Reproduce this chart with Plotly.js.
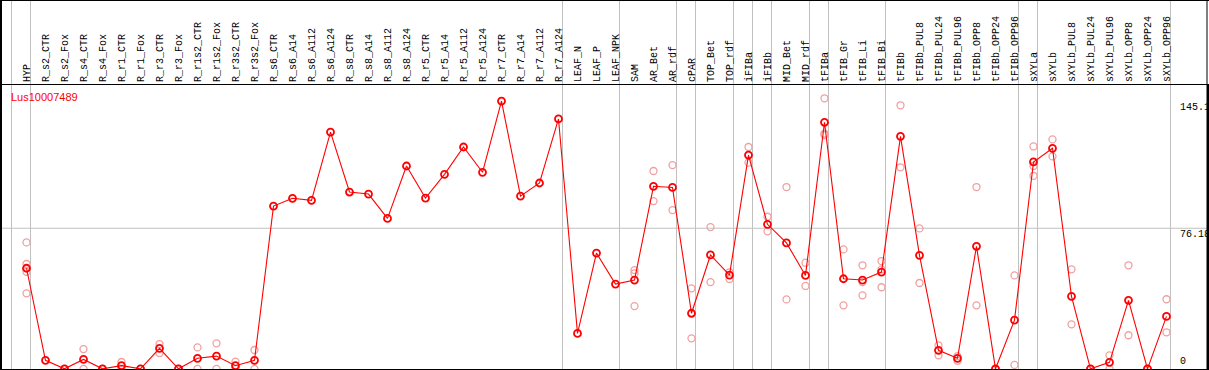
<!DOCTYPE html>
<html>
<head>
<meta charset="utf-8">
<script src="https://cdn.plot.ly/plotly-3.0.1.min.js"></script>
<style>
  html, body { margin: 0; padding: 0; background: #fff; }
  #chart { width: 1209px; height: 370px; }
</style>
</head>
<body>
<div id="chart"></div>
<script>
// ---- data ----
const geneName = "Lus10007489";

const categories = [
  "HYP","R_s2_CTR","R_s2_Fox","R_s4_CTR","R_s4_Fox","R_r1_CTR","R_r1_Fox","R_r3_CTR","R_r3_Fox",
  "R_r1s2_CTR","R_r1s2_Fox","R_r3s2_CTR","R_r3s2_Fox","R_s6_CTR","R_s6_A14","R_s6_A112","R_s6_A124",
  "R_s8_CTR","R_s8_A14","R_s8_A112","R_s8_A124","R_r5_CTR","R_r5_A14","R_r5_A112","R_r5_A124",
  "R_r7_CTR","R_r7_A14","R_r7_A112","R_r7_A124","LEAF_N","LEAF_P","LEAF_NPK","SAM","AR_Bet","AR_rdf",
  "cPAR","TOP_Bet","TOP_rdf","iFIBa","iFIBb","MID_Bet","MID_rdf","tFIBa","tFIB_Gr","tFIB_Li","tFIB_Bi",
  "tFIBb","tFIBb_PUL8","tFIBb_PUL24","tFIBb_PUL96","tFIBb_OPP8","tFIBb_OPP24","tFIBb_OPP96",
  "sXYLa","sXYLb","sXYLb_PUL8","sXYLb_PUL24","sXYLb_PUL96","sXYLb_OPP8","sXYLb_OPP24","sXYLb_OPP96"
];

const means = [
  54.5, 4.6, 0, 5.1, 0, 1.7, 0, 11.1, 0,
  5.7, 6.9, 1.7, 4.6, 88.2, 92.4, 91.3, 128.3,
  95.8, 94.7, 81.5, 109.9, 92.5, 105.4, 120.2, 106.5,
  145.1, 93.6, 100.7, 135.4, 19.2, 62.7, 45.9, 48.1, 98.9, 98.3,
  30.1, 61.7, 50.8, 115.8, 78.3, 68.2, 50.6, 133.6, 48.8, 48.1, 52.4,
  126.0, 61.5, 10.0, 5.7, 66.4, 0, 26.4,
  112.1, 119.5, 39.3, 0, 3.5, 37.1, 0, 28.4
];

const rep1 = [
  68.5, null, 0, 10.7, 0, 3.7, 0, 13.4, 0,
  11.6, 13.8, 3.9, 10.2, null, null, null, null,
  null, null, null, null, null, null, null, null,
  null, null, null, null, null, null, null, 53.5, 107.2, 110.4,
  43.6, 76.8, 52.3, 120.2, 82.4, 98.5, 57.5, 146.6, 64.7, 56.1, 58.4,
  142.8, 76.1, 12.7, 6.9, 98.5, 0, 50.6,
  120.5, 124.3, 53.9, 0, 7.3, 56.1, 0, 37.7
];

const rep2 = [
  56.8, null, 0, 0, 0, 0, 0, 8.6, 0,
  0, 0, 0, 0, null, null, null, null,
  null, null, null, null, null, null, null, null,
  null, null, null, null, null, null, null, 51.7, 90.9, 86.0,
  16.5, 47.0, 48.7, 111.7, 74.5, 37.6, 44.9, 127.5, 34.4, 47.0, 53.9,
  109.2, 46.5, 7.3, 4.4, 34.4, 0, 2.1,
  109.9, 115.1, 24.1, 0, 0, 18.2, 0, 19.8
];

const rep3 = [
  52.6, null, null, null, null, null, null, null, null,
  null, null, null, null, null, null, null, null,
  null, null, null, null, null, null, null, null,
  null, null, null, null, null, null, null, 34.0, null, null,
  null, null, null, null, null, null, null, 126.7, null, 39.8, 44.2,
  null, null, null, null, null, null, null,
  104.6, null, null, null, null, null, null, null
];

const rep4 = [
  40.9, null, null, null, null, null, null, null, null,
  null, null, null, null, null, null, null, null,
  null, null, null, null, null, null, null, null,
  null, null, null, null, null, null, null, null, null, null,
  null, null, null, null, null, null, null, null, null, null, null,
  null, null, null, null, null, null, null,
  null, null, null, null, null, null, null, null
];

// last category of each sample group (a separator follows each)
const groupEnds = ["HYP","R_r7_A124","LEAF_NPK","AR_rdf","cPAR","TOP_rdf","iFIBa","iFIBb",
                   "MID_rdf","tFIBa","tFIB_Bi","tFIBb_OPP96","sXYLa","sXYLb_OPP96"];

const yTickVals = [145.1, 76.18, 0];
const yTickText = ["145.1", "76.18", "0"];
const gridVals = [76.18];

// ---- drawing ----
const xIdx = categories.map((_, i) => i);
const repColor = "#f0a0a0";
const red = "#ff0000";

const traces = [];
[rep1, rep2, rep3, rep4].forEach(r => {
  traces.push({
    x: xIdx, y: r, type: "scatter", mode: "markers", cliponaxis: false,
    marker: {symbol: "circle-open", size: 7, color: repColor, line: {color: repColor, width: 1.3}},
    hoverinfo: "skip", showlegend: false
  });
});
traces.push({
  x: xIdx, y: means, type: "scatter", mode: "lines+markers", cliponaxis: false,
  line: {color: red, width: 1.1},
  marker: {symbol: "circle-open", size: 7, color: red, line: {color: red, width: 1.8}},
  showlegend: false
});

const sepOffset = 0.21;
const topPaper = 1 + 85 / 284;
const shapes = [];
shapes.push({type: "line", xref: "x", yref: "paper", x0: -1 + sepOffset, x1: -1 + sepOffset,
             y0: 0, y1: topPaper, line: {color: "#c0c0c0", width: 1}, layer: "below"});
groupEnds.forEach(name => {
  const i = categories.indexOf(name);
  shapes.push({type: "line", xref: "x", yref: "paper", x0: i + sepOffset, x1: i + sepOffset,
               y0: 0, y1: topPaper, line: {color: "#c0c0c0", width: 1}, layer: "below"});
});
gridVals.forEach(v => {
  shapes.push({type: "line", xref: "paper", yref: "y", x0: 0, x1: 1, y0: v, y1: v,
               line: {color: "#c0c0c0", width: 1}, layer: "below"});
});
shapes.push({type: "line", xref: "paper", yref: "paper", x0: -0.001, x1: 1.0017, y0: topPaper, y1: topPaper,
             line: {color: "#000", width: 2}});
shapes.push({type: "line", xref: "paper", yref: "paper", x0: 0, x1: 0, y0: 0, y1: topPaper,
             line: {color: "#000", width: 2}});
shapes.push({type: "line", xref: "paper", yref: "paper", x0: 1, x1: 1, y0: 0, y1: topPaper,
             line: {color: "#000", width: 1}});

const annotations = [{
  xref: "paper", yref: "paper", x: 0.007, y: 1, xanchor: "left", yanchor: "top", yshift: -4,
  text: geneName, showarrow: false,
  font: {family: "Liberation Sans, Arial, sans-serif", size: 11, color: red}
}];
yTickVals.forEach((v, k) => {
  annotations.push({
    xref: "paper", yref: "y", x: (1178 - 1) / 1206, y: v, xanchor: "left",
    yanchor: v === 0 ? "bottom" : "top", yshift: v === 0 ? 0 : 1,
    text: yTickText[k], showarrow: false,
    font: {family: "Liberation Mono, DejaVu Sans Mono, monospace", size: 10, color: "#000"}
  });
});

const layout = {
  width: 1209, height: 370,
  margin: {l: 1, r: 2, t: 85, b: 1, pad: 0},
  paper_bgcolor: "#fff", plot_bgcolor: "#fff",
  showlegend: false,
  xaxis: {
    side: "top", range: [-1.342, 62.132], tickmode: "array", tickvals: xIdx, ticktext: categories,
    tickangle: -90, ticks: "", showgrid: false, zeroline: false,
    showline: true, mirror: true, linecolor: "#000", linewidth: 1,
    tickfont: {family: "Liberation Mono, DejaVu Sans Mono, monospace", size: 10, color: "#000"}
  },
  yaxis: {
    range: [-0.1, 153.8], showticklabels: false, ticks: "", showgrid: false, zeroline: false,
    showline: true, mirror: true, linecolor: "#000", linewidth: 2
  },
  shapes: shapes,
  annotations: annotations
};

Plotly.newPlot("chart", traces, layout, {staticPlot: true, displayModeBar: false});
</script>
</body>
</html>
